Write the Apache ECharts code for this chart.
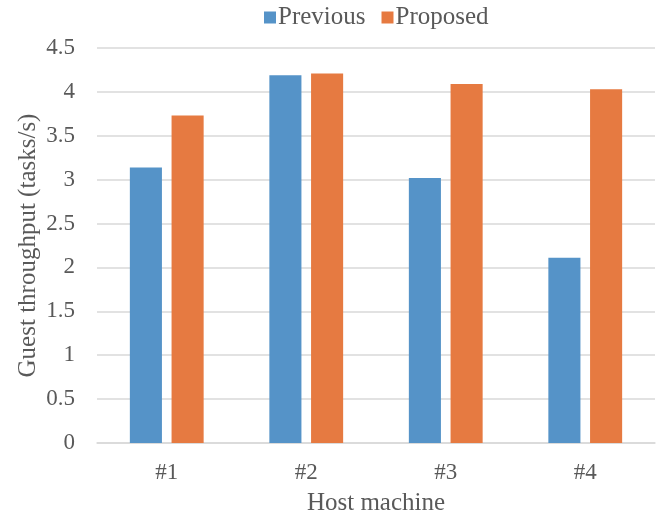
<!DOCTYPE html>
<html>
<head>
<meta charset="utf-8">
<script src="https://cdn.jsdelivr.net/npm/echarts@6/dist/echarts.min.js"></script>
<style>
  html, body { margin: 0; padding: 0; background: #fff; }
  #chart { width: 664px; height: 511px; }
</style>
</head>
<body>
<div id="chart"></div>
<script>
// host machines
const hosts = ['#1', '#2', '#3', '#4'];
// guest throughput (tasks/s)
const previous = [3.14, 4.19, 3.02, 2.11];
const proposed = [3.73, 4.21, 4.09, 4.03];

const textColor = '#595959';
const font = 'Liberation Serif';

const chart = echarts.init(document.getElementById('chart'));
chart.setOption({
    animation: false,
    textStyle: { fontFamily: font },
    legend: {
        top: 0,
        left: 259,
        itemWidth: 12,
        itemHeight: 12,
        itemGap: 16,
        icon: 'rect',
        textStyle: { fontFamily: font, fontSize: 25, color: textColor, padding: [0, 0, 0, -3] },
        data: ['Previous', 'Proposed']
    },
    // v6 shrinks the grid to fit names unless told not to
    grid: { left: 97, right: 9, top: 48, bottom: 68, outerBoundsMode: 'none' },
    xAxis: {
        type: 'category',
        data: hosts,
        name: 'Host machine',
        nameLocation: 'middle',
        nameGap: 48,
        nameMoveOverlap: false,
        nameTextStyle: { fontFamily: font, fontSize: 25, color: textColor },
        axisLine: { lineStyle: { color: '#D9D9D9', width: 1.5 } },
        axisTick: { show: false },
        axisLabel: { margin: 18, fontFamily: font, fontSize: 23, color: textColor }
    },
    yAxis: {
        type: 'value',
        min: 0,
        max: 4.5,
        interval: 0.5,
        name: 'Guest throughput (tasks/s)',
        nameLocation: 'middle',
        nameGap: 56,
        nameMoveOverlap: false,
        nameTextStyle: { fontFamily: font, fontSize: 25, color: textColor },
        axisLine: { show: false },
        axisTick: { show: false },
        axisLabel: { margin: 22, fontFamily: font, fontSize: 23, color: textColor },
        splitLine: { lineStyle: { color: '#D9D9D9', width: 1.5 } }
    },
    series: [
        {
            name: 'Previous',
            type: 'bar',
            data: previous,
            barWidth: '23%',
            barGap: '30%',
            itemStyle: { color: '#5593C8' }
        },
        {
            name: 'Proposed',
            type: 'bar',
            data: proposed,
            barWidth: '23%',
            barGap: '30%',
            itemStyle: { color: '#E67A41' }
        }
    ]
});
</script>
</body>
</html>
